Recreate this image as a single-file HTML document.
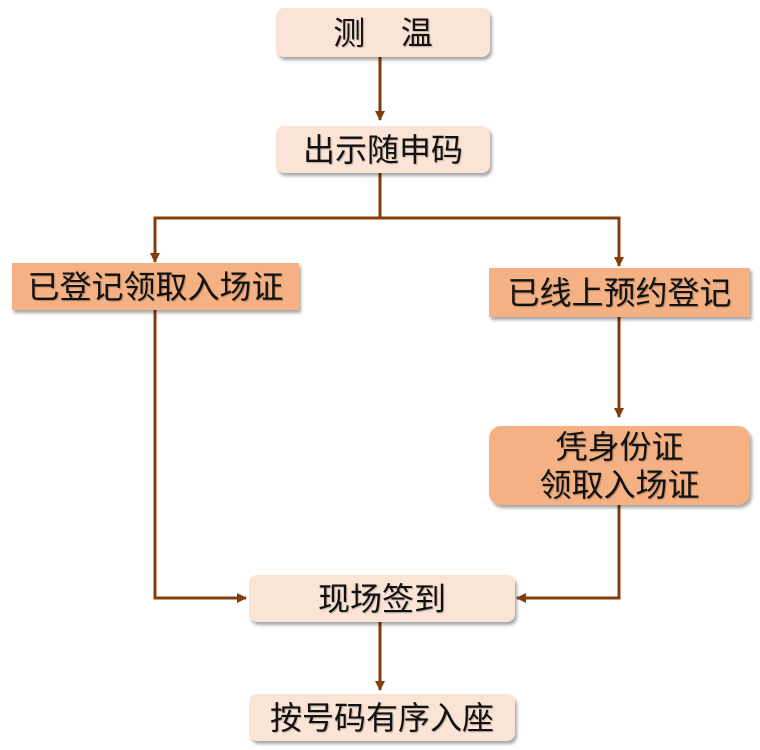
<!DOCTYPE html>
<html><head><meta charset="utf-8"><style>
body{margin:0;width:760px;height:750px;background:#fff;position:relative;overflow:hidden;font-family:"Liberation Sans","Noto Sans CJK SC",sans-serif}
.b{position:absolute;display:flex;align-items:center;justify-content:center;text-align:center;font-size:32px;line-height:38px;color:#111;box-shadow:2px 3px 3px rgba(0,0,0,.35);text-shadow:1px 1px 1px rgba(0,0,0,.25)}
.l{background:#FBE4D6;border-radius:8px}
.o{background:#F4B183}
</style></head><body>
<svg width="760" height="750" style="position:absolute;left:0;top:0">
<defs><marker id="a" markerWidth="10" markerHeight="10" refX="9" refY="5" orient="auto" markerUnits="userSpaceOnUse"><path d="M0,0 L10,5 L0,10 z" fill="#843C0C"/></marker></defs>
<g stroke="#843C0C" stroke-width="3" fill="none">
<path d="M380,57 V120" marker-end="url(#a)"/>
<path d="M380,173 V218 H155 V262" marker-end="url(#a)"/>
<path d="M380,218 H619 V266" marker-end="url(#a)"/>
<path d="M155,310 V598 H246" marker-end="url(#a)"/>
<path d="M619,317 V417" marker-end="url(#a)"/>
<path d="M619,505 V598 H517" marker-end="url(#a)"/>
<path d="M380,622 V690" marker-end="url(#a)"/>
</g></svg>
<div class="b l" style="left:276px;top:8px;width:214px;height:49px">测&nbsp;&nbsp;&nbsp;&nbsp;温</div>
<div class="b l" style="left:276px;top:126px;width:214px;height:47px">出示随申码</div>
<div class="b o" style="left:12px;top:263px;width:287px;height:47px">已登记领取入场证</div>
<div class="b o" style="left:489px;top:268px;width:261px;height:49px">已线上预约登记</div>
<div class="b o" style="left:489px;top:426px;width:261px;height:79px;border-radius:12px">凭身份证<br>领取入场证</div>
<div class="b l" style="left:249px;top:575px;width:266px;height:47px">现场签到</div>
<div class="b l" style="left:249px;top:694px;width:266px;height:47px">按号码有序入座</div>
</body></html>
